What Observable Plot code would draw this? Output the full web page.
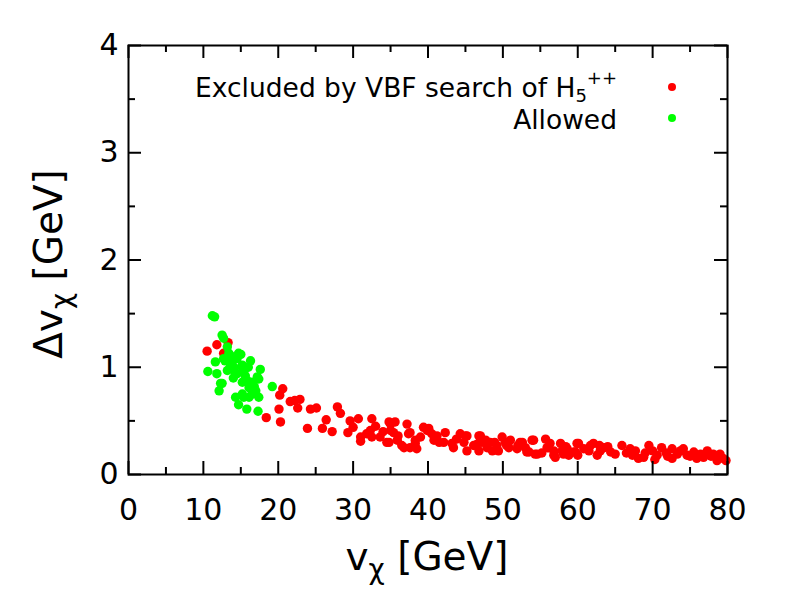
<!DOCTYPE html>
<html>
<head>
<meta charset="utf-8">
<script src="https://cdn.jsdelivr.net/npm/d3@7"></script>
<script src="https://cdn.jsdelivr.net/npm/@observablehq/plot@0.6"></script>
<style>
  body { margin: 0; background: #fff; }
  #chart { width: 800px; height: 600px; }
</style>
</head>
<body>
<div id="chart"></div>
<script>
// ---- data ----
const excluded = [
  [10.5,1.15],[11.8,1.21],[13.3,1.23],[12.7,1.13],[16.1,0.85],[18.4,0.53],
  [20.3,0.49],[20.1,0.61],[20.2,0.74],[20.6,0.80],[21.6,0.68],[22.2,0.69],[22.9,0.70],[22.6,0.62],
  [24.3,0.61],[25.1,0.62],[23.9,0.43],[25.9,0.43],
  [26.4,0.51],[27.2,0.40],[27.9,0.63],[28.3,0.57],[29.3,0.39],[29.6,0.50],[30.7,0.52],[30.0,0.44],
  [31.0,0.35],[31.0,0.31],[32.5,0.52],[32.3,0.41],[32.5,0.35],[33.6,0.35],[34.5,0.30],[35.0,0.47],
  [35.6,0.49],[35.4,0.39],[35.9,0.32],[37.2,0.47],[36.8,0.25],[37.6,0.39],[38.3,0.29],[38.5,0.24],
  [31.8,0.38],[34.8,0.49],[35.0,0.41],[34.8,0.30],[37.4,0.38],[36.5,0.27],[37.6,0.25],[38.3,0.32],
  [39.4,0.44],[39.9,0.41],[40.5,0.38],[41.2,0.36],[42.3,0.39],[40.8,0.32],[42.1,0.30],[43.2,0.29],
  [44.3,0.38],[45.2,0.36],[44.8,0.30],[45.2,0.22],[46.1,0.27],[47.0,0.36],[47.7,0.32],[47.9,0.25],
  [48.6,0.22],[49.2,0.27],[49.9,0.35],[50.3,0.30],[50.8,0.25],[51.0,0.32],[52.6,0.30],[51.9,0.24],[53.5,0.21],
  [40.1,0.43],[43.4,0.25],[45.0,0.36],[46.8,0.36],[47.2,0.30],[46.8,0.22],[48.3,0.30],[49.4,0.22],
  [52.3,0.30],[54.1,0.32],[54.6,0.19],[55.7,0.33],[56.1,0.25],[56.8,0.18],[57.7,0.29],[57.9,0.22],
  [58.6,0.24],[59.9,0.29],[59.7,0.21],
  [53.9,0.32],[53.2,0.21],[54.3,0.19],[55.9,0.25],[56.3,0.29],[56.8,0.22],[57.0,0.16],[58.1,0.19],
  [58.8,0.18],[59.5,0.21],[60.1,0.29],[61.7,0.27],[62.1,0.29],[61.5,0.22],[62.6,0.18],[63.5,0.25],
  [64.4,0.21],[65.0,0.19],[65.9,0.27],[67.7,0.22],[68.1,0.15],[68.8,0.16],[69.5,0.27],[70.0,0.22],
  [70.6,0.18],[71.2,0.25],[72.6,0.24],[72.6,0.15],[73.3,0.19],[74.1,0.24],[74.6,0.18],[75.5,0.21],
  [76.4,0.19],[77.3,0.22],[78.1,0.19],[79.0,0.19],[79.4,0.15],[79.8,0.13],[75.9,0.15],[78.6,0.13],
  [33.0,0.45],[34.0,0.40],[36.0,0.36],[39.0,0.35],[41.5,0.30],[43.8,0.33],[46.5,0.28],[48.9,0.30],
  [50.5,0.27],[52.0,0.27],[53.0,0.25],[55.2,0.20],[58.4,0.26],[60.8,0.24],[63.0,0.22],[64.0,0.26],
  [66.5,0.20],[67.3,0.18],[69.0,0.20],[71.8,0.20],[73.7,0.22],[75.0,0.17],[76.8,0.16],[77.8,0.17],
  [72.0,0.17],[70.3,0.14],[67.0,0.24],[60.0,0.18],[62.9,0.27]
];
const allowed = [
  [11.2,1.48],[11.5,1.47],[12.5,1.30],[12.7,1.27],[13.2,1.19],[13.4,1.13],[14.7,1.13],[15.0,1.12],
  [16.3,1.06],[11.6,1.05],[10.6,0.96],[12.9,1.06],[13.6,1.11],[13.8,1.05],[15.2,1.00],[15.2,1.02],
  [17.6,0.98],[11.8,0.94],[12.5,0.85],[12.1,0.78],[14.3,0.72],[14.7,0.65],[15.8,0.61],[17.3,0.59],
  [19.2,0.82],[17.0,0.78],[17.4,0.72],[16.5,0.86],[15.2,0.86],[15.6,0.92],[17.4,0.89],[14.1,0.97],
  [16.1,0.72],[15.2,0.75],[14.5,1.08],[13.6,1.03],[14.1,1.00],[14.5,0.94],[15.4,0.97],[17.2,0.91],
  [16.5,0.75],[15.4,0.72],[15.8,0.88],[16.1,0.81],[12.7,1.08],[12.3,0.85],[13.2,0.97],[14.0,0.90],
  [16.8,0.82],[16.0,1.00]
];
const xDomain = [0, 80];
const yDomain = [0, 4];
const xMajor = [0, 10, 20, 30, 40, 50, 60, 70, 80];
const xMinor = [5, 15, 25, 35, 45, 55, 65, 75];
const yMajor = [0, 1, 2, 3, 4];
const yMinor = [0.5, 1.5, 2.5, 3.5];
const legendLabels = ["Excluded by VBF search of H", "Allowed"];
const colors = {excluded: "#ff0000", allowed: "#00ff00"};

// ---- plot ----
const MAJ = 13, MIN = 7;
const tickStyle = {stroke: "black", strokeWidth: 2};
const plot = Plot.plot({
  width: 800,
  height: 600,
  marginLeft: 128,
  marginRight: 73,
  marginTop: 45,
  marginBottom: 126,
  style: {fontFamily: "DejaVu Sans", fontSize: "30px", background: "white", overflow: "visible"},
  x: {domain: xDomain},
  y: {domain: yDomain},
  marks: [
    Plot.dot(excluded, {x: d => d[0], y: d => d[1], r: 4.7, fill: colors.excluded, stroke: "none"}),
    Plot.dot(allowed, {x: d => d[0], y: d => d[1], r: 4.7, fill: colors.allowed, stroke: "none"}),
    // inward ticks, bottom / top
    Plot.ruleX(xMajor, {x: d => d, y1: yDomain[0], y2: yDomain[0], insetTop: -MAJ, ...tickStyle}),
    Plot.ruleX(xMinor, {x: d => d, y1: yDomain[0], y2: yDomain[0], insetTop: -MIN, ...tickStyle}),
    Plot.ruleX(xMajor, {x: d => d, y1: yDomain[1], y2: yDomain[1], insetBottom: -MAJ, ...tickStyle}),
    Plot.ruleX(xMinor, {x: d => d, y1: yDomain[1], y2: yDomain[1], insetBottom: -MIN, ...tickStyle}),
    // inward ticks, left / right
    Plot.ruleY(yMajor, {y: d => d, x1: xDomain[0], x2: xDomain[0], insetRight: -MAJ, ...tickStyle}),
    Plot.ruleY(yMinor, {y: d => d, x1: xDomain[0], x2: xDomain[0], insetRight: -MIN, ...tickStyle}),
    Plot.ruleY(yMajor, {y: d => d, x1: xDomain[1], x2: xDomain[1], insetLeft: -MAJ, ...tickStyle}),
    Plot.ruleY(yMinor, {y: d => d, x1: xDomain[1], x2: xDomain[1], insetLeft: -MIN, ...tickStyle}),
    Plot.axisX(xMajor, {tickSize: 0, tickPadding: 24, fontSize: 30, label: null, fill: "black", tickFormat: d => String(d)}),
    Plot.axisY(yMajor, {tickSize: 0, tickPadding: 10, fontSize: 30, label: null, fill: "black", tickFormat: d => String(d)}),
    Plot.frame({stroke: "black", strokeWidth: 2})
  ]
});
document.getElementById("chart").appendChild(plot);

// ---- titles and legend ----
const svg = d3.select(plot);
const ff = "DejaVu Sans";

// x title
const xt = svg.append("text")
  .attr("x", 427).attr("y", 570)
  .attr("text-anchor", "middle")
  .attr("font-family", ff).attr("font-size", 39).attr("fill", "black");
xt.append("tspan").text("v");
xt.append("tspan").attr("font-size", 28).attr("dy", 9).text("χ");
xt.append("tspan").attr("dy", -9).text(" [GeV]");

// y title
const yt = svg.append("text")
  .attr("transform", "translate(62,264) rotate(-90)")
  .attr("text-anchor", "middle")
  .attr("font-family", ff).attr("font-size", 39).attr("fill", "black");
yt.append("tspan").text("Δv");
yt.append("tspan").attr("font-size", 28).attr("dy", 9).text("χ");
yt.append("tspan").attr("dy", -9).text(" [GeV]");

// legend
const l1 = svg.append("text")
  .attr("x", 617).attr("y", 97)
  .attr("text-anchor", "end")
  .attr("font-family", ff).attr("font-size", 26.5).attr("fill", "black");
l1.append("tspan").text(legendLabels[0]);
l1.append("tspan").attr("font-size", 18).attr("dy", 5).text("5");
l1.append("tspan").attr("font-size", 18).attr("dy", -18).text("++");
svg.append("circle").attr("cx", 672).attr("cy", 87).attr("r", 4).attr("fill", colors.excluded);

svg.append("text")
  .attr("x", 617).attr("y", 129)
  .attr("text-anchor", "end")
  .attr("font-family", ff).attr("font-size", 26.5).attr("fill", "black")
  .text(legendLabels[1]);
svg.append("circle").attr("cx", 672).attr("cy", 118).attr("r", 4).attr("fill", colors.allowed);
</script>
</body>
</html>
